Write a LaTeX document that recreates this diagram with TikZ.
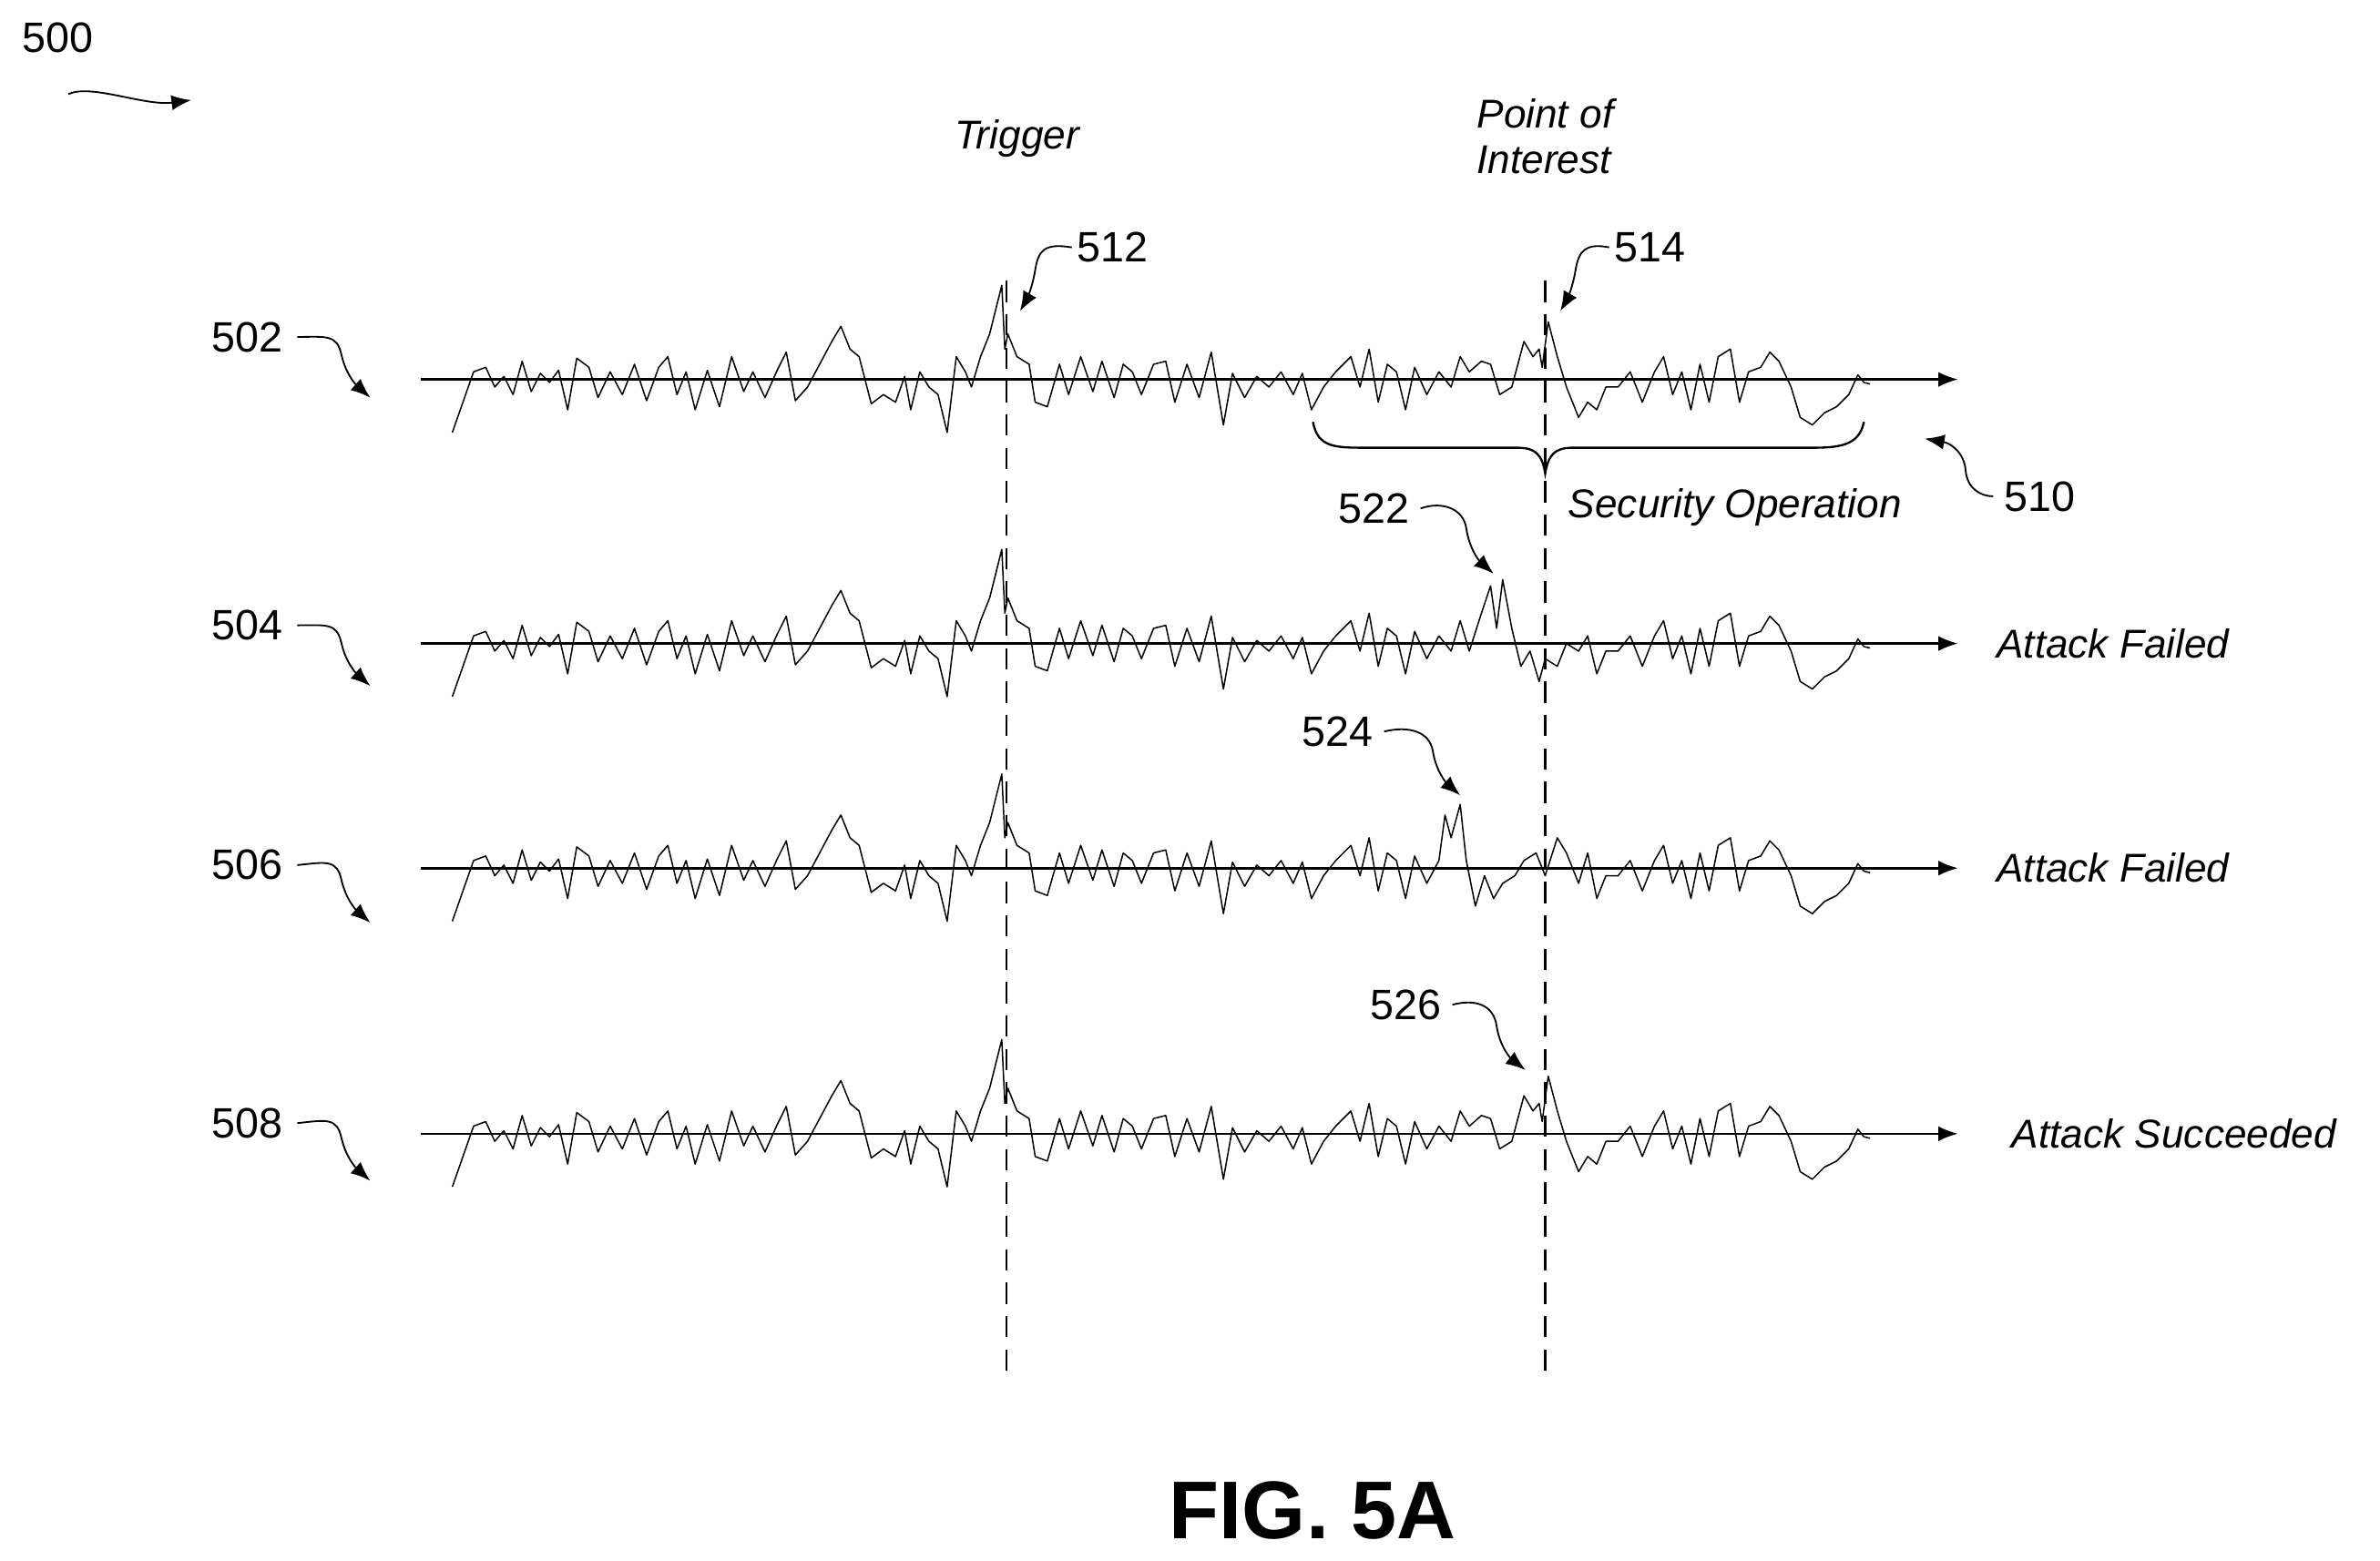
\documentclass[tikz,border=0pt]{standalone}
\usepackage{fontspec}
\setmainfont{Liberation Sans}
\usetikzlibrary{arrows.meta}
\begin{document}
\begin{tikzpicture}[x=1pt,y=-1pt,
  num/.style={font=\fontsize{28}{30}\selectfont},
  lab/.style={font=\fontsize{26.5}{30}\selectfont\itshape},
  axis/.style={line width=1.6pt,-{Latex[length=13pt,width=10pt]}},
  wave/.style={line width=0.9pt,line join=round},
  lead/.style={line width=1.1pt,-{Latex[length=13pt,width=10pt]}},
  vdash/.style={line width=1.6pt,dash pattern=on 14pt off 8pt}]
\useasboundingbox (0,0) rectangle (1568,1028);
\def\wA{(298,35) -- (312,-5) -- (320,-8) -- (326,5) -- (332,-2) -- (338,10) -- (344,-12) -- (350,8) -- (356,-4) -- (362,2) -- (368,-6) -- (374,20) -- (380,-14) -- (388,-8) -- (394,12) -- (402,-5) -- (410,10) -- (418,-10) -- (426,14) -- (434,-8) -- (440,-15) -- (446,10) -- (452,-5) -- (458,20) -- (466,-6) -- (474,18) -- (482,-15) -- (490,8) -- (496,-5) -- (504,12) -- (512,-6) -- (518,-18) -- (524,14) -- (532,5) -- (540,-10) -- (548,-25) -- (554,-35) -- (560,-20) -- (566,-15) -- (574,16) -- (582,10) -- (590,15) -- (596,-2) -- (600,20) -- (606,-5) -- (612,5) -- (618,10) -- (624,35) -- (630,-15) -- (636,-5) -- (640,5) -- (646,-15) -- (652,-30) -- (660,-62) -- (662,-20) -- (664,-30) -- (670,-15) -- (678,-10) -- (682,15) -- (690,18) -- (698,-10) -- (704,10) -- (712,-15) -- (720,8) -- (726,-12) -- (734,12) -- (740,-10) -- (746,-5) -- (752,10) -- (760,-10) -- (768,-12) -- (774,15) -- (782,-10) -- (790,12) -- (798,-18) -- (806,30) -- (812,-4) -- (820,12) -- (828,-2) -- (836,5) -- (844,-5) -- (852,10) -- (858,-4) -- (864,20) -- (872,5) -- (880,-5) -- (890,-15) -- (896,5) -- (902,-20) -- (908,15) -- (914,-10) -- (920,-5) -- (926,20) -- (932,-8) -- (940,10)}
\def\wB{(1052,20) -- (1058,5) -- (1066,5) -- (1074,-5) -- (1082,15) -- (1090,-5) -- (1096,-15) -- (1102,10) -- (1108,-5) -- (1114,20) -- (1120,-10) -- (1126,15) -- (1132,-15) -- (1140,-20) -- (1146,15) -- (1152,-5) -- (1160,-8) -- (1166,-18) -- (1172,-12) -- (1180,5) -- (1186,25) -- (1194,30) -- (1202,22) -- (1210,18) -- (1218,10) -- (1224,-3) -- (1228,2) -- (1232,3)}
% axes
\foreach \n/\y in {a/250,b/424,c/572,d/747}{
  \coordinate (s\n) at (277,\y); \coordinate (e\n) at (1290,\y);
  \draw[axis] (s\n) -- (e\n);}
% waves
\draw[wave,shift={(0,250)}] \wA -- (948,-5) -- (956,5) -- (962,-15) -- (968,-5) -- (976,-12) -- (982,-10) -- (988,10) -- (996,5) -- (1004,-25) -- (1010,-15) -- (1014,-20) -- (1016,-8) -- (1020,-38) -- (1026,-15) -- (1032,5) -- (1040,25) -- (1046,15) -- \wB;
\draw[wave,shift={(0,424)}] \wA -- (948,-5) -- (956,5) -- (962,-15) -- (968,5) -- (976,-20) -- (982,-38) -- (986,-10) -- (990,-42) -- (996,-10) -- (1002,15) -- (1008,5) -- (1014,25) -- (1018,10) -- (1026,15) -- (1032,0) -- (1040,5) -- (1046,-5) -- \wB;
\draw[wave,shift={(0,572)}] \wA -- (948,-5) -- (952,-35) -- (956,-20) -- (962,-42) -- (966,-5) -- (972,25) -- (978,5) -- (984,20) -- (990,10) -- (998,5) -- (1004,-5) -- (1012,-10) -- (1018,5) -- (1026,-20) -- (1032,-10) -- (1040,10) -- (1046,-10) -- \wB;
\draw[wave,shift={(0,747)}] \wA -- (948,-5) -- (956,5) -- (962,-15) -- (968,-5) -- (976,-12) -- (982,-10) -- (988,10) -- (996,5) -- (1004,-25) -- (1010,-15) -- (1014,-20) -- (1016,-8) -- (1020,-38) -- (1026,-15) -- (1032,5) -- (1040,25) -- (1046,15) -- \wB;
% dashed
\coordinate (t1) at (663,185); \coordinate (t2) at (663,908);
\coordinate (p1) at (1018,185); \coordinate (p2) at (1018,908);
\draw[vdash] (t1) -- (t2); \draw[vdash] (p1) -- (p2);
% brace
\draw[line width=1.4pt] (865,278) .. controls (868,295) and (880,295) .. (900,295) -- (1000,295) .. controls (1012,295) and (1016,300) .. (1018,312) .. controls (1020,300) and (1024,295) .. (1036,295) -- (1195,295) .. controls (1215,295) and (1225,292) .. (1228,278);
% text labels
\node[lab] (trig) at (670,91) {Trigger};
\node[lab,align=left] (poi) at (1018,90) {Point of\\Interest};
\node[lab] (sec) at (1143,334) {Security Operation};
\node[lab,anchor=west] (af1) at (1312,424) {Attack Failed};
\node[lab,anchor=west] (af2) at (1312,572) {Attack Failed};
\node[lab,anchor=west] (as) at (1322,747) {Attack Succeeded};
\node[font=\fontsize{54}{56}\selectfont\bfseries] (fig) at (865,995) {FIG. 5A};
% numbers
\node[num] (n500) at (38,25) {500};
\node[num] (n502) at (163,222) {502};
\node[num] (n504) at (163,412) {504};
\node[num] (n506) at (163,570) {506};
\node[num] (n508) at (163,740) {508};
\node[num] (n512) at (733,163) {512};
\node[num] (n514) at (1087,163) {514};
\node[num] (n510) at (1344,327) {510};
\node[num] (n522) at (905,335) {522};
\node[num] (n524) at (881,482) {524};
\node[num] (n526) at (926,662) {526};
% leaders
\coordinate (a500) at (126,66);
\coordinate (b500) at (45,62);
\draw[lead] (b500) .. controls (60,55) and (95,70) .. (a500);
\foreach \n/\y in {502/262,504/452,506/608,508/778}{
  \coordinate (a\n) at (244,\y);
  \draw[lead] ([xshift=6pt]n\n.east) .. controls (215,\y-40) and (222,\y-42) .. (225,\y-28) .. controls (228,\y-15) and (235,\y-8) .. (a\n);}
\coordinate (a512) at (672,205);
\draw[lead] (n512.west) .. controls (688,160) and (684,165) .. (682,178) .. controls (680,190) and (676,198) .. (a512);
\coordinate (a514) at (1028,205);
\draw[lead] (n514.west) .. controls (1045,160) and (1040,165) .. (1038,178) .. controls (1036,190) and (1032,198) .. (a514);
\coordinate (a510) at (1268,289);
\draw[lead] ([xshift=-4pt]n510.west) .. controls (1305,327) and (1296,322) .. (1295,310) .. controls (1294,298) and (1285,292) .. (a510);
\coordinate (a522) at (984,378);
\draw[lead] ([xshift=4pt]n522.east) .. controls (950,330) and (964,335) .. (966,348) .. controls (968,362) and (975,370) .. (a522);
\coordinate (a524) at (962,524);
\draw[lead] ([xshift=4pt]n524.east) .. controls (928,478) and (942,482) .. (944,495) .. controls (946,508) and (953,516) .. (a524);
\coordinate (a526) at (1005,705);
\draw[lead] ([xshift=4pt]n526.east) .. controls (972,658) and (984,662) .. (986,676) .. controls (988,690) and (996,698) .. (a526);
\end{tikzpicture}
\end{document}
